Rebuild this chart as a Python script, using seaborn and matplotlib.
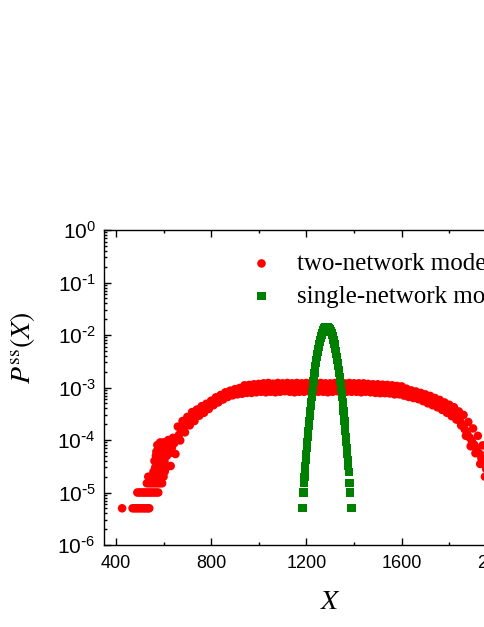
import matplotlib
matplotlib.use("Agg")
import matplotlib.pyplot as plt
import matplotlib.ticker as mticker
import seaborn as sns
import numpy as np

# ---------------- data ----------------
# two-network model: band read as alternating upper / lower points ...
red_x = list(range(620, 1980, 10))
red_y = [1.0e-4, 3.2e-5, 1.1e-4, 5.4e-5, 1.8e-4, 9.8e-5, 2.3e-4, 1.4e-4, 2.75e-4, 1.9e-4,
         3.4e-4, 2.3e-4, 3.8e-4, 2.9e-4, 4.4e-4, 3.3e-4, 4.9e-4, 3.9e-4, 5.6e-4, 4.6e-4,
         6.5e-4, 5.2e-4, 7.2e-4, 5.9e-4, 8.1e-4, 6.6e-4, 8.7e-4, 7.1e-4, 9.3e-4, 7.4e-4,
         9.8e-4, 7.6e-4, 1.1e-3, 7.9e-4, 1.12e-3, 7.9e-4, 1.15e-3, 8.1e-4, 1.17e-3, 8.3e-4,
         1.2e-3, 8.1e-4, 1.22e-3, 8.3e-4, 1.18e-3, 8.1e-4, 1.22e-3, 8.3e-4, 1.2e-3, 8.5e-4,
         1.22e-3, 8.3e-4, 1.2e-3, 8.1e-4, 1.22e-3, 8.3e-4, 1.2e-3, 8.3e-4, 1.22e-3, 8.5e-4,
         1.2e-3, 8.1e-4, 1.2e-3, 8.3e-4, 1.22e-3, 8.3e-4, 1.2e-3, 8.1e-4, 1.2e-3, 8.3e-4,
         1.22e-3, 8.5e-4, 1.2e-3, 8.1e-4, 1.2e-3, 8.3e-4, 1.22e-3, 8.3e-4, 1.2e-3, 8.3e-4,
         1.2e-3, 8.1e-4, 1.2e-3, 8.3e-4, 1.17e-3, 8.1e-4, 1.15e-3, 7.9e-4, 1.15e-3, 7.8e-4,
         1.13e-3, 7.8e-4, 1.12e-3, 7.7e-4, 1.1e-3, 7.4e-4, 1.07e-3, 7.4e-4, 1.05e-3, 7.0e-4,
         9.5e-4, 6.6e-4, 8.8e-4, 6.3e-4, 8.4e-4, 6.0e-4, 7.9e-4, 5.5e-4, 7.4e-4, 5.0e-4,
         6.9e-4, 4.6e-4, 6.3e-4, 4.2e-4, 5.8e-4, 3.75e-4, 5.2e-4, 3.3e-4, 4.7e-4, 2.85e-4,
         4.2e-4, 2.45e-4, 3.5e-4, 1.9e-4, 3.0e-4, 1.2e-4, 2.2e-4, 7.6e-5, 1.66e-4, 5.6e-5,
         1.2e-4, 3.5e-5, 7.9e-5, 2.0e-5, 5.6e-5, 2.0e-5]

# ... plus the band's centre line
red_mid_x = list(range(625, 1975, 10))
red_mid_y = [5.6e-5, 7.1e-5, 8.7e-5, 1.05e-4, 1.26e-4, 1.5e-4, 1.8e-4, 2.07e-4, 2.3e-4, 2.57e-4,
             2.8e-4, 3.05e-4, 3.3e-4, 3.6e-4, 3.85e-4, 4.1e-4, 4.4e-4, 4.7e-4, 5.1e-4, 5.4e-4,
             5.8e-4, 6.2e-4, 6.6e-4, 6.9e-4, 7.2e-4, 7.6e-4, 7.9e-4, 8.2e-4, 8.4e-4, 8.6e-4,
             8.8e-4, 9.0e-4, 9.2e-4, 9.3e-4, 9.4e-4, 9.5e-4, 9.7e-4, 9.8e-4] \
    + [1.0e-3] * 46 \
    + [9.7e-4, 9.7e-4, 9.5e-4, 9.5e-4, 9.4e-4, 9.4e-4, 9.3e-4, 9.3e-4, 9.2e-4, 9.1e-4,
       9.0e-4, 8.9e-4, 8.8e-4, 8.5e-4, 8.1e-4, 7.9e-4, 7.7e-4, 7.5e-4, 7.3e-4, 7.2e-4,
       6.9e-4, 6.7e-4, 6.5e-4, 6.2e-4, 5.9e-4, 5.6e-4, 5.4e-4, 5.1e-4, 4.9e-4, 4.6e-4,
       4.4e-4, 4.1e-4, 3.9e-4, 3.7e-4, 3.5e-4, 3.2e-4, 2.95e-4, 2.6e-4, 2.3e-4, 1.9e-4,
       1.6e-4, 1.3e-4, 1.12e-4, 9.5e-5, 8.1e-5, 6.9e-5, 5.6e-5, 4.5e-5, 3.5e-5, 2.8e-5,
       2.2e-5]

# low-count left tail (quantised levels)
red_tail_x = [426, 470, 478, 486, 494, 502, 510, 518, 526, 534, 540,
              490, 498, 506, 514, 522, 530, 538, 546, 554, 562, 570, 578,
              530, 538, 546, 554, 562, 570, 578, 586, 594,
              536, 546, 570, 585, 600,
              558, 575, 595, 605,
              565, 580, 590, 612,
              562, 572, 588, 604,
              568, 584, 598, 614,
              570, 592, 608,
              574, 580, 588, 596, 604, 612,
              586, 600, 616]
red_tail_y = [5e-6] * 11 + [1e-5] * 12 + [1.5e-5] * 9 + [2e-5] * 5 + [2.5e-5] * 4 \
    + [3e-5] * 4 + [4e-5] * 4 + [5e-5] * 4 + [6e-5] * 3 + [8e-5] * 6 + [9e-5] * 3

# single-network model
green_x = list(range(1180, 1394, 2))
green_y = [5e-6, 5e-6, 5e-6, 1e-5, 1e-5, 1.5e-5, 2e-5, 2.5e-5, 3.2e-5, 4.2e-5,
           5.4e-5, 7.0e-5, 9.0e-5, 1.15e-4, 1.46e-4, 1.85e-4, 2.32e-4, 2.89e-4, 3.58e-4, 4.40e-4,
           5.39e-4, 6.56e-4, 7.94e-4, 9.54e-4, 1.14e-3, 1.35e-3, 1.60e-3, 1.88e-3, 2.19e-3, 2.54e-3,
           2.92e-3, 3.35e-3, 3.82e-3, 4.32e-3, 4.86e-3, 5.43e-3, 6.04e-3, 6.67e-3, 7.32e-3, 8.00e-3,
           8.68e-3, 9.36e-3, 1.003e-2, 1.069e-2, 1.132e-2, 1.191e-2, 1.246e-2, 1.297e-2, 1.340e-2, 1.377e-2,
           1.406e-2, 1.428e-2, 1.441e-2, 1.445e-2,
           1.441e-2, 1.428e-2, 1.406e-2, 1.377e-2, 1.340e-2, 1.297e-2, 1.246e-2, 1.191e-2, 1.132e-2, 1.069e-2,
           1.003e-2, 9.36e-3, 8.68e-3, 8.00e-3, 7.32e-3, 6.67e-3, 6.04e-3, 5.43e-3, 4.86e-3, 4.32e-3,
           3.82e-3, 3.35e-3, 2.92e-3, 2.54e-3, 2.19e-3, 1.88e-3, 1.60e-3, 1.35e-3, 1.14e-3, 9.54e-4,
           7.94e-4, 6.56e-4, 5.39e-4, 4.40e-4, 3.58e-4, 2.89e-4, 2.32e-4, 1.85e-4, 1.46e-4, 1.15e-4,
           9.0e-5, 7.0e-5, 5.4e-5, 4.2e-5, 3.2e-5, 2.5e-5, 1.5e-5, 1e-5, 1.5e-5, 5e-6,
           5e-6, 5e-6, 5e-6]

series_labels = ["two-network model", "single-network model"]
x_major = [400, 800, 1200, 1600, 2000]
y_exponents = [-6, -5, -4, -3, -2, -1, 0]

# ---------------- style ----------------
sns.set_style("ticks")
plt.rcParams['font.family'] = ['Liberation Sans', 'DejaVu Sans']
plt.rcParams['axes.linewidth'] = 1.0
for k in ['text.color', 'axes.labelcolor', 'xtick.color', 'ytick.color', 'axes.edgecolor']:
    plt.rcParams[k] = 'black'

fig = plt.figure(figsize=(4.85, 6.27), dpi=100)
W, H = 485.0, 627.0
left, right, top, bottom = 104.0, 556.4, 230.0, 545.0
ax = fig.add_axes([left / W, 1 - bottom / H, (right - left) / W, (bottom - top) / H])

red_all_x = red_tail_x + red_x + red_mid_x
red_all_y = red_tail_y + red_y + red_mid_y
sns.scatterplot(x=red_all_x, y=red_all_y, ax=ax, color='#ff0000', marker='o', s=38,
                edgecolor='none', linewidth=0, label=series_labels[0], zorder=2)
sns.scatterplot(x=green_x, y=green_y, ax=ax, color='#008000', marker='s', s=34,
                edgecolor='none', linewidth=0, label=series_labels[1], zorder=3)

ax.set_yscale('log')
ax.set_ylim(1e-6, 1e0)
ax.set_xlim(350, 2250)


def exp_label(e):
    s = str(abs(e)) if e >= 0 else r'\text{-}' + str(abs(e))
    return r'$\mathregular{10^{' + s + '}}$'


ax.set_xticks(x_major)
ax.xaxis.set_minor_locator(mticker.MultipleLocator(200))
ax.set_xticklabels([str(v) for v in x_major])
ax.set_yticks([10.0 ** e for e in y_exponents])
ax.set_yticklabels([exp_label(e) for e in y_exponents])
ax.yaxis.set_minor_locator(mticker.LogLocator(base=10, subs=np.arange(2, 10), numticks=20))
ax.yaxis.set_minor_formatter(mticker.NullFormatter())

ax.tick_params(which='both', direction='in', top=True, right=True, colors='black', width=1.0)
ax.tick_params(which='major', length=5)
ax.tick_params(which='minor', length=2.5)
ax.tick_params(axis='x', pad=7, labelsize=13)
ax.tick_params(axis='y', pad=6, labelsize=15)
for sp in ax.spines.values():
    sp.set_color('black')
    sp.set_linewidth(1.0)

ax.set_xlabel(r'$X$', fontsize=20, math_fontfamily='stix', color='black')
ax.set_ylabel(r'$P^{\mathrm{ss}}(X)$', fontsize=20, math_fontfamily='stix', color='black')
ax.xaxis.label.set_va('center')
ax.yaxis.label.set_va('center')
ax.xaxis.set_label_coords(0.5, (bottom - 602) / (bottom - top))
ax.yaxis.set_label_coords((22 - left) / (right - left), (bottom - 348) / (bottom - top))

leg = ax.legend(loc='upper left', bbox_to_anchor=((234 - left) / (right - left), (bottom - 240) / (bottom - top)),
                frameon=False, prop={'family': 'Liberation Serif', 'size': 18},
                handletextpad=0.82, labelspacing=0.42, borderpad=0, handlelength=1.2,
                markerscale=1.0)
for t in leg.get_texts():
    t.set_color('black')

fig.savefig('out.png', dpi=100)
